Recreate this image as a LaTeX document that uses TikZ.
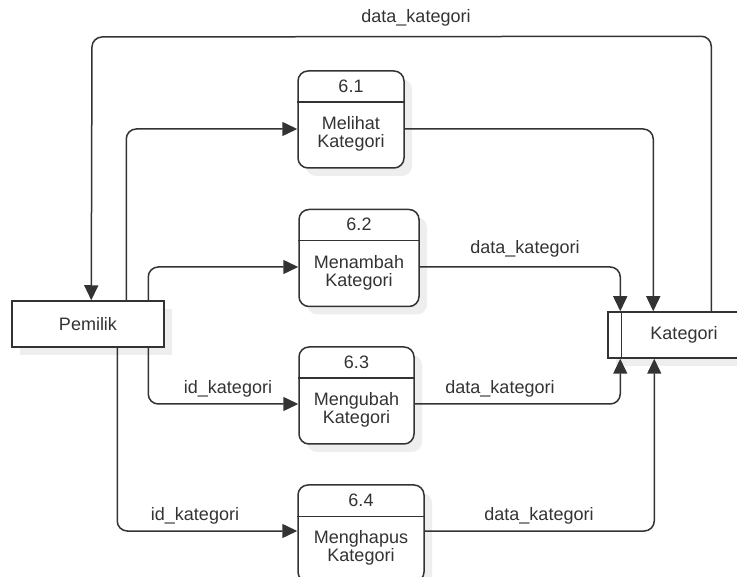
\documentclass[tikz,border=0pt]{standalone}
\usepackage{fontspec}
\setmainfont{Liberation Sans}
\usetikzlibrary{arrows.meta,shadows}
\definecolor{ink}{HTML}{333333}
\definecolor{shade}{HTML}{EEEEEE}
\begin{document}
\begin{tikzpicture}[x=1pt,y=-1pt,
  every node/.style={text=ink,font=\fontsize{18}{18}\selectfont},
  boxshadow/.style={general shadow={fill=shade,shadow xshift=8pt,shadow yshift=-8pt}},
  entity/.style={draw=ink,line width=1.5pt,fill=white,boxshadow,
    minimum width=152pt,minimum height=46pt,inner sep=0pt},
  proc/.style={draw=ink,line width=1.5pt,fill=white,boxshadow,rounded corners=10pt,
    minimum height=97pt,inner sep=0pt},
  flow/.style={draw=ink,line width=1.5pt,rounded corners=10pt,
    -{Triangle[length=15pt,width=14pt]}},
  lbl/.style={inner sep=0pt}]
\clip (0,0) rectangle (737,577);

% external entity and data store
\node[entity] (pem) at (88,324) {Pemilik};
\node[entity] (kat) at (684,335) {Kategori};
\draw[ink,line width=1.5pt] ([xshift=14pt]kat.north west) -- ([xshift=14pt]kat.south west);

% processes
\node[proc,minimum width=106pt] (p1) at (351,119.5) {};
\node[proc,minimum width=120pt] (p2) at (359,258) {};
\node[proc,minimum width=115pt] (p3) at (356.5,395.5) {};
\node[proc,minimum width=126pt] (p4) at (361,533.5) {};
\foreach \p/\num/\name in {p1/6.1/Melihat,p2/6.2/Menambah,p3/6.3/Mengubah,p4/6.4/Menghapus}{
  \draw[ink,line width=1.5pt] ([yshift=-32pt]\p.north west) -- ([yshift=-32pt]\p.north east);
  \path (\p.north) ++(0,16) node {\num};
  \path (\p.north) ++(0,64) node[align=center] {\name\\Kategori};
}

% data flows
\draw[flow] ([xshift=104pt]kat.north west) -- ++(0,-275) -- (92,37) -- ([xshift=80pt]pem.north west);
\node[lbl] at (416,18) {data\_kategori};

\draw[flow] ([xshift=115pt]pem.north west) |- ([yshift=-9.5pt]p1.west);
\draw[flow] ([xshift=137pt]pem.north west) |- ([yshift=-9pt]p2.west);
\draw[flow] ([xshift=137pt]pem.south west) |- ([yshift=-8.5pt]p3.west);
\node[lbl] at (228,389) {id\_kategori};
\draw[flow] ([xshift=106pt]pem.south west) |- ([yshift=2.5pt]p4.west);
\node[lbl] at (195,516) {id\_kategori};

\draw[flow] ([yshift=-9.5pt]p1.east) -| ([xshift=46pt]kat.north west);
\draw[flow] ([yshift=-9pt]p2.east) -| ([xshift=13pt]kat.north west);
\node[lbl] at (525,249) {data\_kategori};
\draw[flow] ([yshift=-8.5pt]p3.east) -| ([xshift=13pt]kat.south west);
\node[lbl] at (500,389) {data\_kategori};
\draw[flow] ([yshift=2.5pt]p4.east) -| ([xshift=47pt]kat.south west);
\node[lbl] at (539,516) {data\_kategori};
\end{tikzpicture}
\end{document}
